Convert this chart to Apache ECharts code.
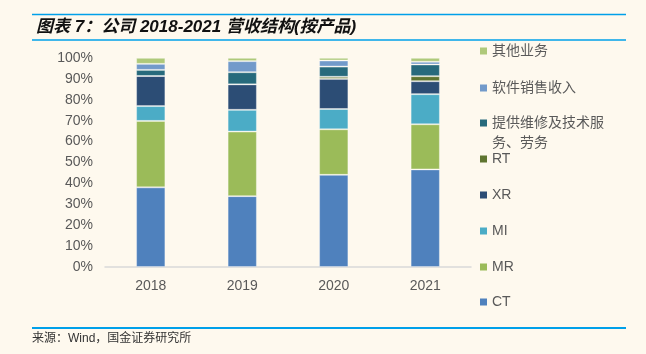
<!DOCTYPE html>
<html>
<head>
<meta charset="utf-8">
<script src="https://cdn.jsdelivr.net/npm/echarts@6/dist/echarts.min.js"></script>
<style>
  html, body { margin: 0; padding: 0; background: #fef9ee; }
  #chart { width: 646px; height: 354px; }
</style>
</head>
<body>
<div id="chart"></div>
<script>
const years = ['2018', '2019', '2020', '2021'];

// revenue share by product, percent
const ct = [38.1, 33.9, 44.1, 46.7];
const mr = [31.8, 30.9, 21.8, 21.6];
const mi = [7.1, 10.4, 9.7, 14.4];
const xr = [14.4, 12.2, 14.4, 6.2];
const rt = [0, 0, 1.0, 2.4];
const service = [2.9, 5.8, 4.9, 5.6];
const software = [2.9, 5.3, 2.9, 1.3];
const other = [2.9, 1.6, 1.3, 1.9];

const yTicks = [0, 10, 20, 30, 40, 50, 60, 70, 80, 90, 100];

const seriesDefs = [
  { name: 'CT', data: ct, color: '#4f81bd' },
  { name: 'MR', data: mr, color: '#9bbb59' },
  { name: 'MI', data: mi, color: '#4bacc6' },
  { name: 'XR', data: xr, color: '#2c4d75' },
  { name: 'RT', data: rt, color: '#5f7530' },
  { name: '提供维修及技术服务、劳务', data: service, color: '#276a7c' },
  { name: '软件销售收入', data: software, color: '#729aca' },
  { name: '其他业务', data: other, color: '#afc97a' },
];

const longName = '提供维修及技术服务、劳务';

// legend rows, top to bottom
const legendTops = {
  '其他业务': 36,
  '软件销售收入': 73,
  [longName]: 108,
  'RT': 144,
  'XR': 180,
  'MI': 216,
  'MR': 252,
  'CT': 287,
};

const blue = '#00a0e9';
const grey = '#595959';
const font = '"Liberation Sans", "Noto Sans CJK SC", sans-serif';

const chart = echarts.init(document.getElementById('chart'));

const legends = Object.keys(legendTops).map(name => {
  const isLong = name === longName;
  return {
    data: [name],
    left: 475,
    top: legendTops[name],
    // the two-line item keeps its square next to the first line
    icon: isLong ? 'path://M0,0L7,0L7,7L0,7Z M0,27L7,27' : 'rect',
    itemWidth: 7,
    itemHeight: isLong ? 27 : 7,
    itemGap: 0,
    itemStyle: { borderWidth: 0 },
    formatter: n => (n === longName ? '提供维修及技术服\n务、劳务' : n),
    textStyle: {
      color: grey,
      fontSize: 14,
      lineHeight: 20,
      fontFamily: font,
    },
  };
});

chart.setOption({
  backgroundColor: '#fef9ee',
  animation: false,
  title: {
    text: '图表 7：公司 2018-2021 营收结构(按产品)',
    left: 31,
    top: 14,
    textStyle: {
      fontSize: 17,
      fontStyle: 'italic',
      fontWeight: 'bold',
      color: '#111',
      fontFamily: font,
    },
  },
  graphic: [
    { type: 'line', shape: { x1: 32, y1: 14.5, x2: 626, y2: 14.5 }, style: { stroke: blue, lineWidth: 1.5 } },
    { type: 'line', shape: { x1: 32, y1: 40, x2: 626, y2: 40 }, style: { stroke: blue, lineWidth: 1.5 } },
    { type: 'line', shape: { x1: 32, y1: 328, x2: 626, y2: 328 }, style: { stroke: blue, lineWidth: 2 } },
    {
      type: 'text',
      left: 32,
      top: 333,
      style: {
        text: '来源：Wind，国金证券研究所',
        fontSize: 12,
        fill: '#333',
        fontFamily: font,
      },
    },
  ],
  legend: legends,
  grid: { left: 105, right: 175, top: 58, bottom: 87 },
  xAxis: {
    type: 'category',
    data: years,
    axisLine: { lineStyle: { color: '#d9d9d9', width: 1.5 } },
    axisTick: { show: false },
    axisLabel: { color: grey, fontSize: 14, margin: 12, fontFamily: font },
  },
  yAxis: {
    type: 'value',
    min: yTicks[0],
    max: yTicks[yTicks.length - 1],
    interval: 10,
    axisLine: { show: false },
    axisTick: { show: false },
    splitLine: { show: false },
    axisLabel: {
      color: grey,
      fontSize: 14,
      margin: 12,
      padding: [4, 0, 0, 0],
      formatter: '{value}%',
      fontFamily: font,
    },
  },
  series: seriesDefs.map(s => ({
    name: s.name,
    type: 'bar',
    stack: 'total',
    barWidth: '32%',
    data: s.data,
    itemStyle: {
      color: s.color,
      borderColor: 'rgba(255,255,255,0.35)',
      borderWidth: 1,
    },
  })),
});
</script>
</body>
</html>
